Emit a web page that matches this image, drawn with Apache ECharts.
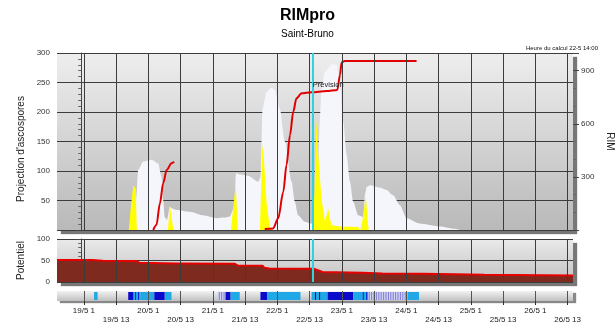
<!DOCTYPE html>
<html>
<head>
<meta charset="utf-8">
<script src="https://cdn.jsdelivr.net/npm/echarts@6/dist/echarts.min.js"></script>
<style>
  html, body { margin: 0; padding: 0; background: #fff; }
  #chart { width: 615px; height: 336px; }
</style>
</head>
<body>
<div id="chart"></div>
<script>
// hours counted from 19/5 00:00
const tickHours = [1, 13, 25, 37, 49, 61, 73, 85, 97, 109, 121, 133, 145, 157, 169, 181];
const tickLabels = ["19/5 1", "19/5 13", "20/5 1", "20/5 13", "21/5 1", "21/5 13", "22/5 1", "22/5 13",
  "23/5 1", "23/5 13", "24/5 1", "24/5 13", "25/5 1", "25/5 13", "26/5 1", "26/5 13"];
const startHour = -9;
const endHour = 183;
const forecastHour = 86;
const forecastLabelLevel = 246;

// envelope of possible ascospore projection (white area)
const envelopeHours = [-9, 19.8, 20.6, 21.2, 23.1, 26.2, 28.6, 29.9, 30.5, 31.1, 31.9, 33.0, 33.6, 35.5, 40.4,
  45.4, 50.4, 53.5, 55.3, 57.0, 57.6, 59.0, 62.0, 65.9, 66.8, 67.5, 69.0, 70.8, 72.1, 73.9, 75.8, 78.3, 79.5,
  80.7, 83.2, 85.5, 87.3, 88.1, 88.8, 89.4, 90.7, 93.2, 95.0, 96.3, 97.5, 98.8, 100.0, 101.2, 103.1, 105.0,
  105.6, 106.2, 107.4, 111.1, 113.6, 116.1, 118.6, 121.1, 126.0, 133.5, 139.0, 141.0, 183];
const envelopeValues = [0, 0, 60, 102, 116, 119, 113, 90, 51, 22, 17, 39, 37, 34, 31,
  25, 20, 21, 23, 40, 96, 94, 92, 82, 90, 206, 234, 241, 237, 206, 150, 82, 48,
  25, 14, 11, 12, 100, 184, 240, 268, 281, 280, 251, 184, 127, 82, 48, 25, 22,
  60, 73, 76, 72, 68, 59, 42, 20, 11, 6, 2, 0, 0];

// ascospore projection (yellow)
const projHours = [-9, 17.7, 18.5, 19.4, 20.3, 20.7, 32.3, 33.0, 34.3, 55.7, 57.5, 58.3, 66.5, 67.4, 68.0, 69.0,
  70.2, 71.0, 85.8, 86.8, 87.5, 88.2, 89.4, 90.7, 91.4, 91.9, 92.5, 93.2, 96.3, 103.0, 103.9, 104.8, 105.9,
  106.7, 107.0, 183];
const projValues = [0, 0, 40, 76, 70, 0, 0, 42, 0, 0, 78, 0, 0, 145, 120, 45,
  5, 0, 0, 60, 188, 127, 54, 14, 12, 37, 20, 8, 6, 5, 0, 20, 59,
  10, 0, 0];

// RIM value (right axis)
const rimHours = [26.8, 28.0, 29.3, 30.5, 31.8, 33.6, 34.6, 50, 68.3, 71.4, 73.3, 75.2, 76.4, 77.7, 78.9,
  80.1, 82.0, 85.7, 91.3, 95.3, 96.3, 96.9, 98.1, 124.8];
const rimValues = [0, 28, 151, 264, 339, 377, 386, null, 6, 9, 66, 216, 367, 537, 668,
  744, 772, 778, 785, 791, 876, 947, 955, 955];

// potentiel
const potHours = [-9, 4, 8, 20.2, 21.7, 35, 36, 57, 58.2, 67.5, 68.2, 70, 86.5, 87.3, 89.8, 104.7, 112, 127, 150, 183];
const potValues = [51, 51, 49.5, 49, 45, 43, 43, 42.5, 38.5, 38, 33, 31.5, 31, 29, 23.5, 21.5, 20, 19, 17, 15];

// weather strip: 0 = light blue, 1 = dark blue, 2 = striped
const stripStart = [4.8, 17.5, 19.5, 22.2, 27.2, 31.1, 51.0, 53.7, 55.6, 66.7, 69.2, 85.7, 91.7, 101.2, 106.8, 121.4,
  20.1, 21.2, 87.0, 88.5, 104.8, 106.1];
const stripEnd = [6.1, 19.5, 22.2, 27.2, 31.1, 33.6, 53.7, 55.6, 59.0, 69.2, 81.6, 91.7, 101.2, 106.8, 121.0, 125.7,
  20.4, 21.5, 87.4, 88.9, 105.1, 106.4];
const stripKind = [0, 1, 0, 0, 1, 0, 2, 1, 0, 1, 0, 0, 1, 0, 2, 0,
  1, 1, 1, 1, 1, 1];

const font = "Liberation Sans, Arial, sans-serif";
const gridLine = { color: "#3c3c3c", width: 1 };
const shadow = { shadowColor: "#777", shadowBlur: 1, shadowOffsetX: 4, shadowOffsetY: 4 };
const panel = (top, bottom) => new echarts.graphic.LinearGradient(0, 0, 0, 1, [
  { offset: 0, color: top },
  { offset: 1, color: bottom },
]);

const pairs = (xs, ys) => xs.map((x, i) => [x, ys[i]]);

// vertical grid lines at the 1h / 13h ticks
const tickLines = (color) => ({
  silent: true,
  symbol: "none",
  animation: false,
  label: { show: false },
  lineStyle: { color, width: 1, type: "solid" },
  data: tickHours.map((h) => ({ xAxis: h })),
});

const xAxisBase = (gridIndex, withLabels) => ({
  type: "value",
  gridIndex,
  min: startHour,
  max: endHour,
  axisLine: { show: false },
  axisTick: { show: withLabels, customValues: tickHours, length: 4, lineStyle: { color: "#333" } },
  axisLabel: {
    show: withLabels,
    customValues: tickHours,
    fontSize: 8,
    lineHeight: 9.5,
    margin: 5,
    color: "#222",
    formatter: (v) => {
      const i = tickHours.indexOf(Math.round(v));
      if (i < 0) return "";
      return i % 2 ? "\n" + tickLabels[i] : tickLabels[i];
    },
  },
  splitLine: { show: false },
});

const chart = echarts.init(document.getElementById("chart"));

chart.setOption({
  animation: false,
  textStyle: { fontFamily: font },
  title: [
    {
      text: "RIMpro",
      subtext: "Saint-Bruno",
      left: "center",
      top: 3,
      itemGap: 5,
      textStyle: { fontSize: 16, fontWeight: "bold", color: "#000" },
      subtextStyle: { fontSize: 10, color: "#000" },
    },
    {
      text: "Heure du calcul 22-5 14:00",
      right: 12,
      top: 40,
      textStyle: { fontSize: 6, fontWeight: "normal", color: "#111" },
    },
  ],
  grid: [
    { left: 57, right: 42, top: 53, height: 177, outerBoundsMode: "none", show: true, borderWidth: 0, backgroundColor: panel("#eeeeee", "#b9b9b9"), ...shadow },
    { left: 57, right: 42, top: 239, height: 43, outerBoundsMode: "none", show: true, borderWidth: 0, backgroundColor: panel("#eaeaea", "#c2c2c2"), ...shadow },
    { left: 57, right: 42, top: 291, height: 10, outerBoundsMode: "none", show: true, borderWidth: 0, backgroundColor: panel("#f2f2f2", "#c0c0c0"), shadowColor: "#888", shadowBlur: 1, shadowOffsetX: 3, shadowOffsetY: 2 },
  ],
  xAxis: [xAxisBase(0, false), xAxisBase(1, false), xAxisBase(2, true)],
  yAxis: [
    {
      type: "value",
      gridIndex: 0,
      min: 0,
      max: 300,
      interval: 50,
      name: "Projection d'ascospores",
      nameLocation: "middle",
      nameGap: 23,
      nameTextStyle: { fontSize: 10, color: "#222", padding: [0, 15, 0, 0] },
      axisLine: { show: true, lineStyle: { color: "#444" } },
      axisTick: { show: true, length: 5, lineStyle: { color: "#444" } },
      minorTick: { show: true, splitNumber: 5, length: 3, lineStyle: { color: "#666" } },
      axisLabel: { fontSize: 8, margin: 7, color: "#333", formatter: (v) => (v === 0 ? "" : v) },
      splitLine: { show: true, lineStyle: gridLine },
    },
    {
      type: "value",
      gridIndex: 0,
      position: "right",
      min: 0,
      max: 1000,
      interval: 300,
      name: "RIM",
      nameLocation: "middle",
      nameRotate: -90,
      nameGap: 2,
      nameTextStyle: { fontSize: 10, color: "#222" },
      axisLine: { show: false },
      axisTick: { show: true, length: 6, lineStyle: { color: "#444" } },
      minorTick: { show: true, splitNumber: 3, length: 3, lineStyle: { color: "#666" } },
      axisLabel: { fontSize: 8, margin: 8, color: "#333", formatter: (v) => (v === 0 || v === 1000 ? "" : v) },
      splitLine: { show: false },
    },
    {
      type: "value",
      gridIndex: 1,
      min: 0,
      max: 100,
      interval: 50,
      name: "Potentiel",
      nameLocation: "middle",
      nameGap: 23,
      nameTextStyle: { fontSize: 10, color: "#222" },
      axisLine: { show: true, lineStyle: { color: "#444" } },
      axisTick: { show: true, length: 5, lineStyle: { color: "#444" } },
      minorTick: { show: true, splitNumber: 5, length: 3, lineStyle: { color: "#666" } },
      axisLabel: { fontSize: 8, margin: 7, color: "#333" },
      splitLine: { show: true, lineStyle: gridLine },
    },
    { type: "value", gridIndex: 2, min: 0, max: 1, show: false },
  ],
  series: [
    {
      name: "grid top",
      type: "line",
      xAxisIndex: 0,
      yAxisIndex: 0,
      z: 1,
      data: [],
      markLine: tickLines("#3c3c3c"),
    },
    {
      name: "grid middle",
      type: "line",
      xAxisIndex: 1,
      yAxisIndex: 2,
      z: 1,
      data: [],
      markLine: tickLines("#3c3c3c"),
    },
    {
      name: "envelope",
      type: "line",
      xAxisIndex: 0,
      yAxisIndex: 0,
      data: pairs(envelopeHours, envelopeValues),
      showSymbol: false,
      smooth: 0.25,
      smoothMonotone: "x",
      lineStyle: { width: 0 },
      areaStyle: { color: "#f5f5fc", opacity: 1 },
      markLine: {
        silent: true,
        symbol: "none",
        label: { show: false },
        lineStyle: { color: "#2fd2de", width: 2, type: "solid" },
        data: [{ xAxis: forecastHour }],
      },
      markPoint: {
        symbol: "rect",
        symbolSize: 1,
        itemStyle: { color: "rgba(0,0,0,0)" },
        label: { show: true, position: "right", distance: 0, formatter: "Prévision", fontSize: 7.5, color: "#222" },
        data: [{ coord: [forecastHour, forecastLabelLevel] }],
      },
    },
    {
      name: "projection",
      type: "line",
      xAxisIndex: 0,
      yAxisIndex: 0,
      data: pairs(projHours, projValues),
      showSymbol: false,
      lineStyle: { width: 0 },
      areaStyle: { color: "#ffff00", opacity: 1 },
    },
    {
      name: "RIM",
      type: "line",
      xAxisIndex: 0,
      yAxisIndex: 1,
      data: pairs(rimHours, rimValues),
      showSymbol: false,
      connectNulls: false,
      smooth: 0.3,
      smoothMonotone: "x",
      lineStyle: { color: "#e00000", width: 2 },
    },
    {
      name: "Potentiel",
      type: "line",
      xAxisIndex: 1,
      yAxisIndex: 2,
      data: pairs(potHours, potValues),
      showSymbol: false,
      lineStyle: { color: "#e80000", width: 2 },
      areaStyle: { color: "#7e2a1f", opacity: 1 },
      markLine: {
        silent: true,
        symbol: "none",
        label: { show: false },
        lineStyle: { color: "#2fd2de", width: 2, type: "solid" },
        data: [{ xAxis: forecastHour }],
      },
    },
    {
      name: "meteo",
      type: "custom",
      xAxisIndex: 2,
      yAxisIndex: 3,
      encode: { x: [0, 1] },
      data: stripStart.map((s, i) => [s, stripEnd[i], stripKind[i]]),
      markLine: tickLines("#555"),
      renderItem: (params, api) => {
        const x0 = api.coord([api.value(0), 0])[0];
        const x1 = api.coord([api.value(1), 0])[0];
        const cs = params.coordSys;
        const y = cs.y + 1;
        const h = cs.height - 2;
        const kind = api.value(2);
        if (kind === 2) {
          const children = [{ type: "rect", shape: { x: x0, y, width: x1 - x0, height: h }, style: { fill: "#d2d2f2" } }];
          for (let x = x0 + 1; x < x1; x += 2.4) {
            children.push({ type: "line", shape: { x1: x, y1: y, x2: x, y2: y + h }, style: { stroke: "#7c7cd6", lineWidth: 1 } });
          }
          return { type: "group", children };
        }
        return {
          type: "rect",
          shape: { x: x0, y, width: x1 - x0, height: h },
          style: { fill: kind === 1 ? "#0a0acc" : "#20a8e6" },
        };
      },
    },
  ],
});
</script>
</body>
</html>
